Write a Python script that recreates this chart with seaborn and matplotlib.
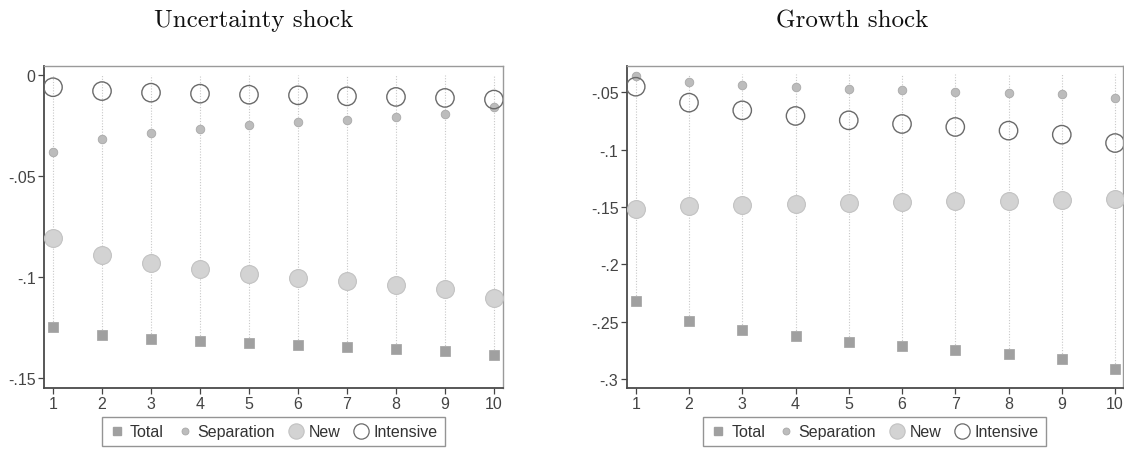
import matplotlib
matplotlib.use("Agg")
import matplotlib.pyplot as plt
from matplotlib.lines import Line2D
from matplotlib.ticker import FuncFormatter
import seaborn as sns
import pandas as pd

horizon = [1, 2, 3, 4, 5, 6, 7, 8, 9, 10]

# uncertainty shock
unc_total = [-0.1244, -0.1285, -0.1305, -0.1315, -0.1325, -0.1335, -0.1343, -0.1353, -0.1363, -0.1383]
unc_separation = [-0.0381, -0.0317, -0.0287, -0.0264, -0.0248, -0.0233, -0.0219, -0.0206, -0.0190, -0.0158]
unc_new = [-0.0804, -0.0891, -0.0931, -0.0959, -0.0983, -0.1002, -0.1020, -0.1038, -0.1059, -0.1102]
unc_intensive = [-0.0059, -0.0078, -0.0086, -0.0091, -0.0096, -0.0099, -0.0104, -0.0107, -0.0112, -0.0120]

# growth shock
gro_total = [-0.2323, -0.2494, -0.2573, -0.2628, -0.2677, -0.2712, -0.2747, -0.2782, -0.2826, -0.2913]
gro_separation = [-0.0355, -0.0410, -0.0436, -0.0453, -0.0471, -0.0483, -0.0494, -0.0506, -0.0517, -0.0547]
gro_new = [-0.1520, -0.1491, -0.1480, -0.1471, -0.1462, -0.1456, -0.1451, -0.1445, -0.1439, -0.1430]
gro_intensive = [-0.0451, -0.0590, -0.0657, -0.0706, -0.0744, -0.0776, -0.0802, -0.0834, -0.0869, -0.0942]

titles = ["Uncertainty shock", "Growth shock"]
stem_top = [0.0, -0.034]
yticks = [[0, -0.05, -0.1, -0.15], [-0.05, -0.1, -0.15, -0.2, -0.25, -0.3]]

sns.set_style("ticks")
plt.rcParams['font.family'] = ['Liberation Sans', 'DejaVu Sans']


def stata_fmt(v, pos):
    s = f"{v:g}"
    return s.replace("0.", ".")


def draw_panel(ax, total, sep, new, inten, top, ticks, ylim, xlim):
    df = pd.DataFrame({"h": horizon, "Total": total, "Separation": sep,
                       "New": new, "Intensive": inten})
    ax.vlines(df["h"], df["Total"], top, colors="#c8c8c8", linestyles=(0, (1, 1.5)),
              linewidth=0.8, zorder=1)
    sns.scatterplot(data=df, x="h", y="Total", ax=ax, marker="s", s=50,
                    color="#a0a0a0", edgecolor="#a0a0a0", linewidth=0.5, zorder=3)
    sns.scatterplot(data=df, x="h", y="New", ax=ax, marker="o", s=165,
                    color="#d3d3d3", edgecolor="#c2c2c2", linewidth=0.8, zorder=3)
    sns.scatterplot(data=df, x="h", y="Separation", ax=ax, marker="o", s=38,
                    color="#bcbcbc", edgecolor="#a8a8a8", linewidth=0.6, zorder=3)
    sns.scatterplot(data=df, x="h", y="Intensive", ax=ax, marker="o", s=175,
                    facecolor="none", edgecolor="#6a6a6a", linewidth=1.0, zorder=4)
    ax.set_xlim(*xlim)
    ax.set_ylim(*ylim)
    ax.set_xticks(horizon)
    ax.set_yticks(ticks)
    ax.yaxis.set_major_formatter(FuncFormatter(stata_fmt))
    ax.set_xlabel("")
    ax.set_ylabel("")
    ax.tick_params(direction="out", length=4, width=0.9, color="#444444",
                   labelcolor="#444444", labelsize=11.5, pad=2)
    for side in ["left", "bottom"]:
        ax.spines[side].set_color("#4a4a4a")
        ax.spines[side].set_linewidth(1.3)
    for side in ["top", "right"]:
        ax.spines[side].set_visible(True)
        ax.spines[side].set_color("#9a9a9a")
        ax.spines[side].set_linewidth(1.0)

    handles = [
        Line2D([], [], linestyle="none", marker="s", markersize=6,
               markerfacecolor="#a0a0a0", markeredgecolor="#a0a0a0"),
        Line2D([], [], linestyle="none", marker="o", markersize=5,
               markerfacecolor="#bcbcbc", markeredgecolor="#a8a8a8", markeredgewidth=0.6),
        Line2D([], [], linestyle="none", marker="o", markersize=11,
               markerfacecolor="#d3d3d3", markeredgecolor="#c2c2c2", markeredgewidth=0.8),
        Line2D([], [], linestyle="none", marker="o", markersize=11,
               markerfacecolor="white", markeredgecolor="#6a6a6a", markeredgewidth=0.9),
    ]
    leg = ax.legend(handles, ["Total", "Separation", "New", "Intensive"],
                    loc="center", bbox_to_anchor=(0.5, -0.136), ncol=4,
                    frameon=True, fancybox=False, fontsize=11.5,
                    handlelength=1.0, handletextpad=0.3, columnspacing=0.8,
                    borderpad=0.45, labelcolor="#333333")
    leg.get_frame().set_edgecolor("#7a7a7a")
    leg.get_frame().set_linewidth(1.0)


fig = plt.figure(figsize=(11.24, 4.52), dpi=100)
ax1 = fig.add_axes([0.03915, 0.1394, 0.4086, 0.7117])
ax2 = fig.add_axes([0.5576, 0.1394, 0.4413, 0.7117])

draw_panel(ax1, unc_total, unc_separation, unc_new, unc_intensive, stem_top[0],
           yticks[0], (-0.1548, 0.00446), (0.816, 10.19))
draw_panel(ax2, gro_total, gro_separation, gro_new, gro_intensive, stem_top[1],
           yticks[1], (-0.3078, -0.0273), (0.831, 10.145))

fig.text(254 / 1124, 1 - 21 / 452, titles[0], family="cmr10", fontsize=18,
         ha="center", va="center", color="#111111")
fig.text(852 / 1124, 1 - 21 / 452, titles[1], family="cmr10", fontsize=18,
         ha="center", va="center", color="#111111")

fig.savefig("out.png", dpi=100)
